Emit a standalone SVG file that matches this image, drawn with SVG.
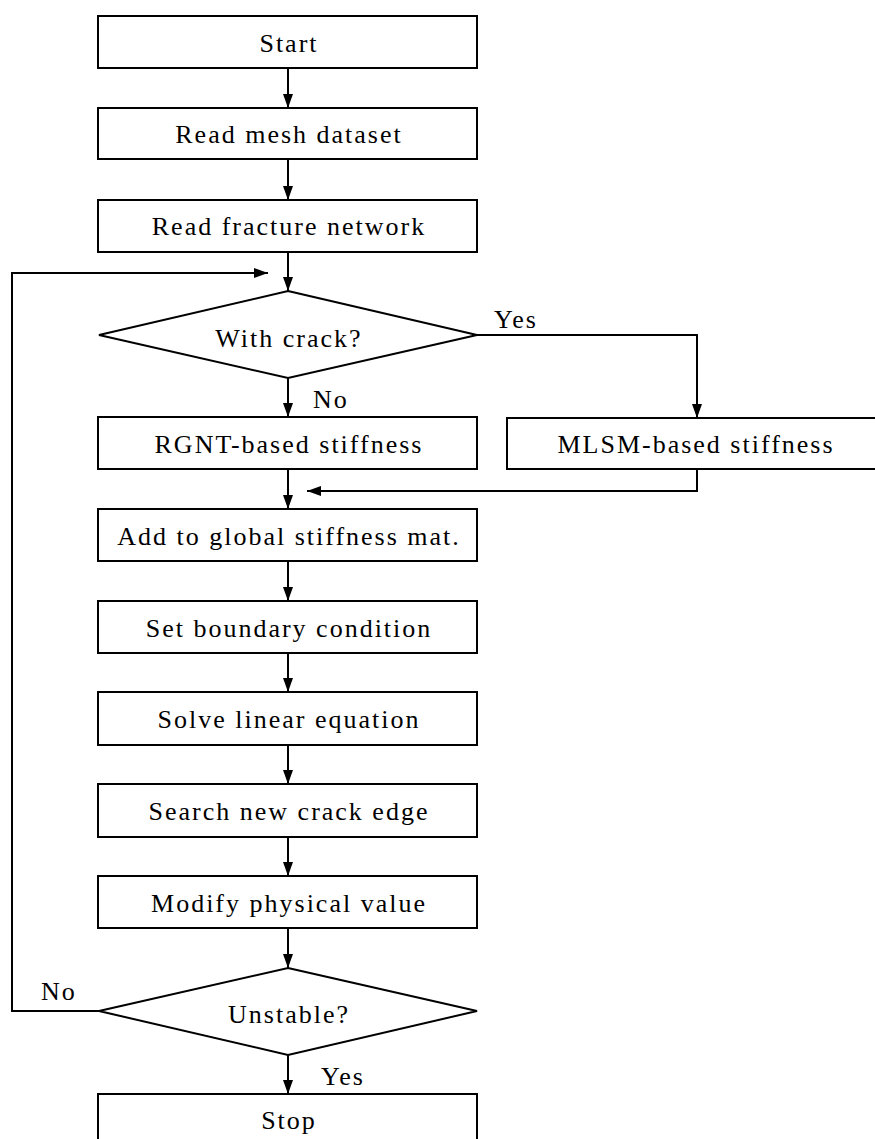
<svg xmlns="http://www.w3.org/2000/svg" width="875" height="1139" viewBox="0 0 875 1139">
<style>
.box{fill:#fff;stroke:#000;stroke-width:2}
.t{font-family:"Liberation Serif","Times New Roman",serif;font-size:26px;letter-spacing:2px;fill:#000}
.c{text-anchor:middle}
.ln{fill:none;stroke:#000;stroke-width:2}
</style>
<defs>
<marker id="ah" markerUnits="userSpaceOnUse" markerWidth="15" markerHeight="11" viewBox="0 0 15 11" refX="14" refY="5.5" orient="auto">
<path d="M0,0.5 L14,5.5 L0,10.5 z" fill="#000"/>
</marker>
</defs>
<rect width="875" height="1139" fill="#fff"/>
<g id="connectors">
<line class="ln" x1="288" y1="68" x2="288" y2="108" marker-end="url(#ah)"/>
<line class="ln" x1="288" y1="159" x2="288" y2="200" marker-end="url(#ah)"/>
<line class="ln" x1="288" y1="252" x2="288" y2="291" marker-end="url(#ah)"/>
<line class="ln" x1="288" y1="378" x2="288" y2="417" marker-end="url(#ah)"/>
<polyline class="ln" points="477,335 697,335 697,418" marker-end="url(#ah)"/>
<line class="ln" x1="288" y1="469" x2="288" y2="509" marker-end="url(#ah)"/>
<polyline class="ln" points="697,469 697,491 307,491" marker-end="url(#ah)"/>
<line class="ln" x1="288" y1="561" x2="288" y2="601" marker-end="url(#ah)"/>
<line class="ln" x1="288" y1="653" x2="288" y2="692" marker-end="url(#ah)"/>
<line class="ln" x1="288" y1="745" x2="288" y2="784" marker-end="url(#ah)"/>
<line class="ln" x1="288" y1="837" x2="288" y2="876" marker-end="url(#ah)"/>
<line class="ln" x1="288" y1="928" x2="288" y2="968" marker-end="url(#ah)"/>
<line class="ln" x1="288" y1="1055" x2="288" y2="1094" marker-end="url(#ah)"/>
<polyline class="ln" points="99,1011 12,1011 12,273 268,273" marker-end="url(#ah)"/>
<text class="t" x="494" y="328">Yes</text>
<text class="t" x="313" y="408">No</text>
<text class="t" x="41" y="1000">No</text>
<text class="t" x="321" y="1085">Yes</text>
</g>
<g id="start"><rect class="box" x="98" y="16" width="379" height="52"/><text class="t c" x="289" y="52">Start</text></g>
<g id="read-mesh"><rect class="box" x="98" y="108" width="379" height="51"/><text class="t c" x="289" y="143">Read mesh dataset</text></g>
<g id="read-fracture"><rect class="box" x="98" y="200" width="379" height="52"/><text class="t c" x="289" y="235">Read fracture network</text></g>
<g id="with-crack"><polygon class="box" points="288,291 477,335 288,378 99,335"/><text class="t c" x="289" y="347">With crack?</text></g>
<g id="rgnt"><rect class="box" x="98" y="417" width="379" height="52"/><text class="t c" x="289" y="453">RGNT-based stiffness</text></g>
<g id="mlsm"><rect class="box" x="507" y="418" width="379" height="51"/><text class="t c" x="696" y="453">MLSM-based stiffness</text></g>
<g id="add-global"><rect class="box" x="98" y="509" width="379" height="52"/><text class="t c" x="289" y="545">Add to global stiffness mat.</text></g>
<g id="boundary"><rect class="box" x="98" y="601" width="379" height="52"/><text class="t c" x="289" y="637">Set boundary condition</text></g>
<g id="solve"><rect class="box" x="98" y="692" width="379" height="53"/><text class="t c" x="289" y="728">Solve linear equation</text></g>
<g id="search"><rect class="box" x="98" y="784" width="379" height="53"/><text class="t c" x="289" y="820">Search new crack edge</text></g>
<g id="modify"><rect class="box" x="98" y="876" width="379" height="52"/><text class="t c" x="289" y="912">Modify physical value</text></g>
<g id="unstable"><polygon class="box" points="288,968 477,1011 288,1055 99,1011"/><text class="t c" x="289" y="1023">Unstable?</text></g>
<g id="stop"><rect class="box" x="98" y="1094" width="379" height="52"/><text class="t c" x="289" y="1129">Stop</text></g>
</svg>
